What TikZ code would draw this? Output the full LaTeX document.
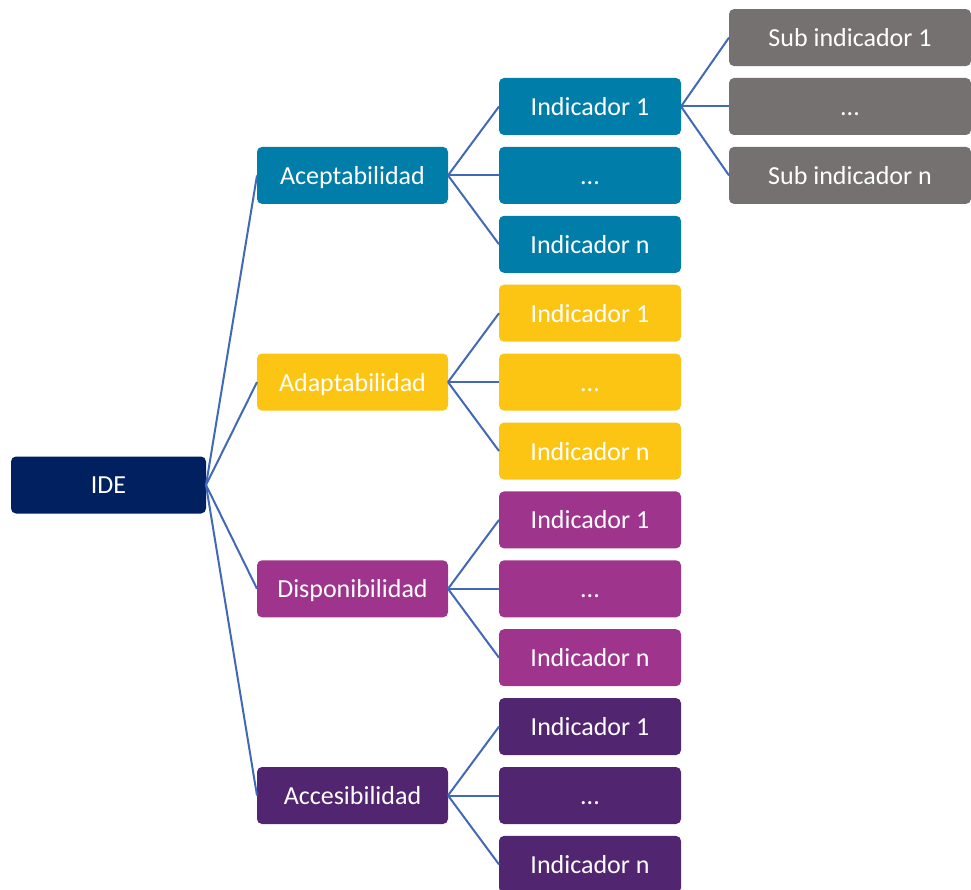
\documentclass[tikz,border=0pt]{standalone}
\usepackage{fontspec}
\setmainfont{Carlito}
\usetikzlibrary{positioning}
\definecolor{idenavy}{HTML}{002060}
\definecolor{acepteal}{HTML}{007DA8}
\definecolor{adapyellow}{HTML}{FDC513}
\definecolor{dispmagenta}{HTML}{9E348C}
\definecolor{accepurple}{HTML}{522570}
\definecolor{subgrey}{HTML}{767171}
\definecolor{linkblue}{HTML}{4169B8}
\newcommand{\etcdots}{\vphantom{Id}...}

\begin{document}
\begin{tikzpicture}[
  x=1pt, y=1pt,
  font=\fontsize{26}{31}\selectfont,
  node distance=11.9pt and 51pt,
  treebox/.style={
    rectangle,
    rounded corners=5pt,
    minimum height=57pt,
    inner sep=0pt,
    outer sep=0pt,
    text depth=0pt,
    align=center,
    text=white
  },
  idebox/.style={treebox, fill=idenavy, minimum width=195pt},
  catbox/.style={treebox, minimum width=191pt},
  indbox/.style={treebox, minimum width=182pt},
  subbox/.style={treebox, fill=subgrey, minimum width=242pt},
  link/.style={draw=linkblue, line width=2pt}
]
  \useasboundingbox (0,0) rectangle (971,-890);

  % --- Indicators stacked top-down ---
  \node[indbox, fill=acepteal] (ind1) at (590,-106.5) {Indicador 1};
  \foreach \t/\col [count=\n from 2] in {
      \etcdots/acepteal, Indicador n/acepteal,
      Indicador 1/adapyellow, \etcdots/adapyellow, Indicador n/adapyellow,
      Indicador 1/dispmagenta, \etcdots/dispmagenta, Indicador n/dispmagenta,
      Indicador 1/accepurple, \etcdots/accepurple, Indicador n/accepurple}
  {
    \pgfmathtruncatemacro\p{\n-1}
    \node[indbox, fill=\col, below=of ind\p] (ind\n) {\t};
  }

  % --- Dimensions ---
  \node[catbox, fill=acepteal,    left=of ind2]  (acep) {Aceptabilidad};
  \node[catbox, fill=adapyellow,  left=of ind5]  (adap) {Adaptabilidad};
  \node[catbox, fill=dispmagenta, left=of ind8]  (disp) {Disponibilidad};
  \node[catbox, fill=accepurple,  left=of ind11] (acce) {Accesibilidad};

  % --- Root ---
  \node[idebox] (ide) at (108.5,-485) {IDE};

  % --- Sub indicators ---
  \node[subbox, right=48pt of ind1] (sub2) {\etcdots};
  \node[subbox, above=of sub2]      (sub1) {Sub indicador 1};
  \node[subbox, below=of sub2]      (sub3) {Sub indicador n};

  % Links between boxes
  \foreach \a/\b in {ide/acep, ide/adap, ide/disp, ide/acce,
                     acep/ind1, acep/ind2, acep/ind3,
                     adap/ind4, adap/ind5, adap/ind6,
                     disp/ind7, disp/ind8, disp/ind9,
                     acce/ind10, acce/ind11, acce/ind12,
                     ind1/sub1, ind1/sub2, ind1/sub3}
    \draw[link] (\a.east) -- (\b.west);

\end{tikzpicture}
\end{document}
